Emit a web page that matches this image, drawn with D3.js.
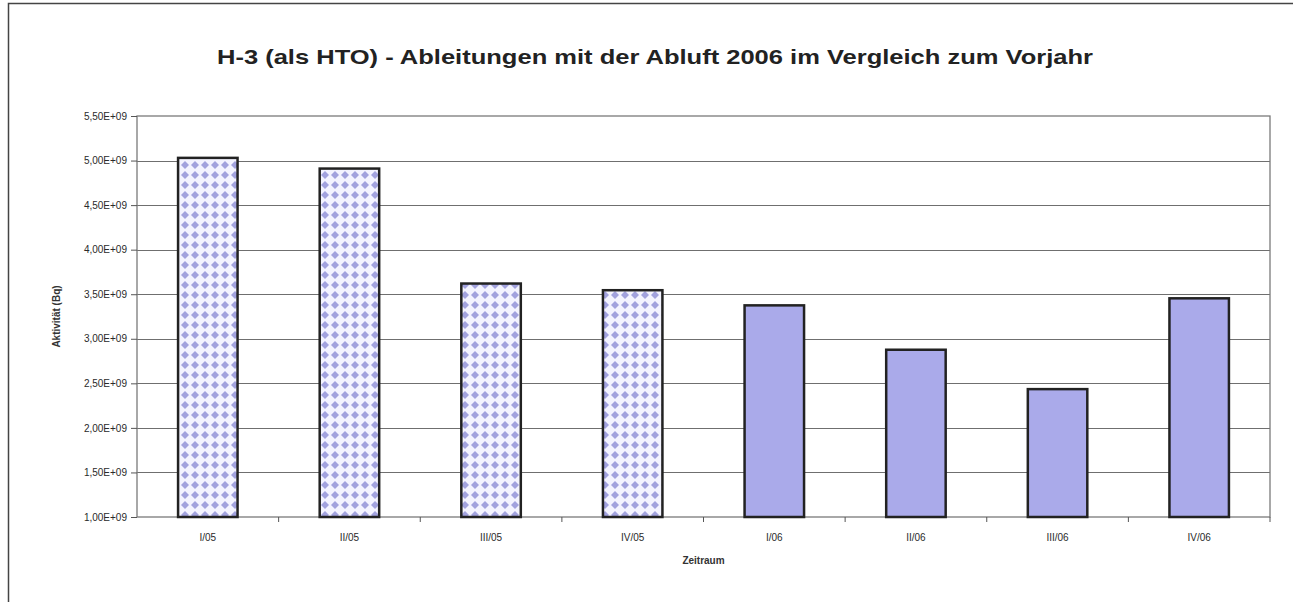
<!DOCTYPE html>
<html lang="de">
<head>
<meta charset="UTF-8" />
<script src="https://d3js.org/d3.v7.min.js"></script>
<title>H-3 Ableitungen</title>
<style>
  body { margin: 0; background: #fff; }
  svg { display: block; font-family: "Liberation Sans", Arial, sans-serif; }
  .grid line { stroke: #6f6f6f; stroke-width: 1; }
  .axis text { fill: #2a2a2a; font-size: 10px; }
  .axis path, .axis line { stroke: #555; }
  .bar { stroke: #222; stroke-width: 2.5; }
</style>
</head>
<body>
<script>
// data
var periods = ["I/05", "II/05", "III/05", "IV/05", "I/06", "II/06", "III/06", "IV/06"];
var activity = [5.03e9, 4.91e9, 3.62e9, 3.545e9, 3.375e9, 2.877e9, 2.435e9, 3.454e9];
var year = ["2005", "2005", "2005", "2005", "2006", "2006", "2006", "2006"];
var yTicks = [1.0e9, 1.5e9, 2.0e9, 2.5e9, 3.0e9, 3.5e9, 4.0e9, 4.5e9, 5.0e9, 5.5e9];
var yTickLabels = ["1,00E+09", "1,50E+09", "2,00E+09", "2,50E+09", "3,00E+09",
                   "3,50E+09", "4,00E+09", "4,50E+09", "5,00E+09", "5,50E+09"];

var width = 1293, height = 602;
var plot = {left: 137, right: 1270, top: 116, bottom: 517};

var svg = d3.select("body").append("svg")
  .attr("width", width).attr("height", height);

// dotted fill for the 2005 bars
var defs = svg.append("defs");
var pat = defs.append("pattern").attr("id", "dots")
  .attr("patternUnits", "userSpaceOnUse")
  .attr("width", 10).attr("height", 10);
pat.append("rect").attr("width", 10).attr("height", 10).attr("fill", "#f4f4ff");
pat.append("path").attr("d", "M5,1 L9,5 L5,9 L1,5 Z").attr("fill", "#a2a2de");

// outer chart frame
svg.append("path")
  .attr("d", "M8.5," + height + " L8.5,3.5 L" + width + ",3.5")
  .attr("fill", "none").attr("stroke", "#444").attr("stroke-width", 1.5);

var x = d3.scaleBand().domain(periods)
  .range([plot.left, plot.right]).paddingInner(0.58).paddingOuter(0.29);
var xb = d3.scaleBand().domain(periods).range([plot.left, plot.right]);
var y = d3.scaleLinear().domain([1e9, 5.5e9]).range([plot.bottom, plot.top]);

// gridlines
svg.append("g").attr("class", "grid")
  .selectAll("line").data(yTicks.slice(1, -1)).join("line")
  .attr("x1", plot.left).attr("x2", plot.right)
  .attr("y1", function(d){ return Math.round(y(d)) + 0.5; })
  .attr("y2", function(d){ return Math.round(y(d)) + 0.5; });

// plot area border
svg.append("rect")
  .attr("x", plot.left).attr("y", plot.top)
  .attr("width", plot.right - plot.left).attr("height", plot.bottom - plot.top)
  .attr("fill", "none").attr("stroke", "#7a7a7a").attr("stroke-width", 1.3);

// bars
svg.selectAll(".bar").data(activity).join("rect")
  .attr("class", "bar")
  .attr("x", function(d, i){ return x(periods[i]); })
  .attr("width", x.bandwidth())
  .attr("y", function(d){ return y(d); })
  .attr("height", function(d){ return plot.bottom - y(d); })
  .attr("fill", function(d, i){ return year[i] === "2005" ? "url(#dots)" : "#aaaaea"; });

// y axis
var yAxis = d3.axisLeft(y).tickValues(yTicks)
  .tickFormat(function(d, i){ return yTickLabels[i]; })
  .tickSize(6).tickPadding(4);
var gy = svg.append("g").attr("class", "axis")
  .attr("transform", "translate(" + plot.left + ",0)").call(yAxis);
gy.select(".domain").remove();

// x axis: ticks between categories
var gx = svg.append("g").attr("class", "axis")
  .attr("transform", "translate(0," + plot.bottom + ")");
gx.selectAll("line").data(periods).join("line")
  .attr("x1", function(d){ return xb(d) + xb.bandwidth(); })
  .attr("x2", function(d){ return xb(d) + xb.bandwidth(); })
  .attr("y1", 0).attr("y2", 5);
gx.selectAll("text").data(periods).join("text")
  .attr("x", function(d){ return xb(d) + xb.bandwidth() / 2; })
  .attr("y", 24).attr("text-anchor", "middle")
  .text(function(d){ return d; });

// title and axis titles
svg.append("text")
  .attr("x", 655).attr("y", 64).attr("text-anchor", "middle")
  .attr("font-size", 21).attr("font-weight", "bold").attr("fill", "#222")
  .attr("textLength", 876).attr("lengthAdjust", "spacingAndGlyphs")
  .text("H-3 (als HTO) - Ableitungen mit der Abluft 2006 im Vergleich zum Vorjahr");

svg.append("text")
  .attr("transform", "translate(60," + ((plot.top + plot.bottom) / 2) + ") rotate(-90)")
  .attr("text-anchor", "middle").attr("font-size", 10).attr("font-weight", "bold")
  .attr("fill", "#333").text("Aktivität (Bq)");

svg.append("text")
  .attr("x", (plot.left + plot.right) / 2).attr("y", 564)
  .attr("text-anchor", "middle").attr("font-size", 10).attr("font-weight", "bold")
  .attr("fill", "#333").text("Zeitraum");
</script>
</body>
</html>
